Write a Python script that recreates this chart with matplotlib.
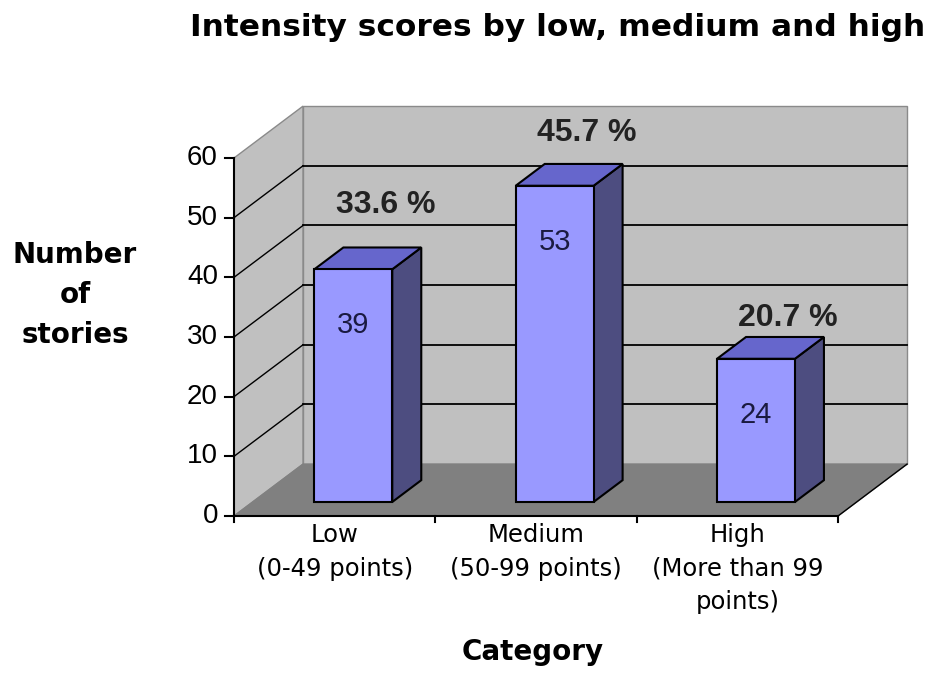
#!/usr/bin/env python

"""
Intensity scores bar chart, drawn as an Excel style 3D column chart.
"""

import numpy as np
import matplotlib
matplotlib.use('Agg')
import matplotlib.pyplot as plt
from matplotlib.patches import Polygon

categories = ['Low\n(0-49 points)', 'Medium\n(50-99 points)', 'High\n(More than 99\npoints)']
counts = [39, 53, 24]
percent_labels = ['33.6 %', '45.7 %', '20.7 %']
y_ticks = [0, 10, 20, 30, 40, 50, 60]

title = 'Intensity scores by low, medium and high'
x_label = 'Category'
y_label = 'Number\nof\nstories'

# depth offset of the back wall, in data units (x: categories, y: counts)
DX, DY = 0.343, 8.7
# bar footprint: width as fraction of a category, depth range as fraction of DX/DY
BAR_W = 0.387
D0, D1 = 0.27, 0.69

c_front = '#9999ff'
c_top = '#6666cc'
c_side = '#4d4d80'
c_wall = '#c0c0c0'
c_floor = '#808080'


def poly(ax, pts, fc, ec='black', lw=1.2, z=1):
    p = Polygon(pts, closed=True, facecolor=fc, edgecolor=ec, linewidth=lw, zorder=z)
    ax.add_patch(p)
    return p


def draw_bar(ax, xc, v):
    x0 = xc - BAR_W / 2 + D0 * DX
    x1 = xc + BAR_W / 2 + D0 * DX
    y0 = D0 * DY
    y1 = y0 + v
    ddx = (D1 - D0) * DX
    ddy = (D1 - D0) * DY
    poly(ax, [(x1, y0), (x1 + ddx, y0 + ddy), (x1 + ddx, y1 + ddy), (x1, y1)], c_side, lw=1.5, z=5)
    poly(ax, [(x0, y1), (x1, y1), (x1 + ddx, y1 + ddy), (x0 + ddx, y1 + ddy)], c_top, lw=1.5, z=5)
    poly(ax, [(x0, y0), (x1, y0), (x1, y1), (x0, y1)], c_front, lw=1.5, z=6)


fig = plt.figure(figsize=(9.36, 6.73), dpi=100)
ax = fig.add_axes([0, 0, 1, 1])
# front plane: x 0..3 -> px 234..838, y 0..60 -> px 516..158 (from top)
ppx = (838 - 234) / 3
ppy = (516 - 158) / 60
ax.set_xlim(-234 / ppx, (936 - 234) / ppx)
ax.set_ylim(-(673 - 516) / ppy, 516 / ppy)
ax.axis('off')

n = len(categories)
ymax = y_ticks[-1]

# walls and floor
poly(ax, [(0, 0), (DX, DY), (DX, ymax + DY), (0, ymax)], c_wall, ec='#8a8a8a', lw=1, z=0)
poly(ax, [(DX, DY), (n + DX, DY), (n + DX, ymax + DY), (DX, ymax + DY)], c_wall, ec='#8a8a8a', lw=1, z=0)
poly(ax, [(0, 0), (n, 0), (n + DX, DY), (DX, DY)], c_floor, ec=c_floor, lw=1, z=1)

# gridlines on back and side walls (top one is the wall border)
for t in y_ticks[1:-1]:
    ax.plot([DX, n + DX], [t + DY, t + DY], color='black', lw=1.3, zorder=2)
    ax.plot([0, DX], [t, t + DY], color='black', lw=1.0, zorder=2)

# axes lines and ticks
ax.plot([0, 0], [0, ymax], color='black', lw=1.5, zorder=3)
ax.plot([0, n], [0, 0], color='black', lw=1.5, zorder=3)
ax.plot([n, n + DX], [0, DY], color='black', lw=1.0, zorder=3)
for t in y_ticks:
    ax.plot([-0.045, 0], [t, t], color='black', lw=1.5, zorder=3)
    ax.text(-0.08, t, str(t), ha='right', va='center', fontsize=20,
            family='Liberation Sans', color='black')
for i in range(n + 1):
    ax.plot([i, i], [0, -1.0], color='black', lw=1.5, zorder=3)

# bars and labels; the percent label sits a little lower towards the right
for i, (v, pl, cat) in enumerate(zip(counts, percent_labels, categories)):
    xc = i + 0.5
    draw_bar(ax, xc, v)
    ax.text(xc + D0 * DX, v + D0 * DY - 9.4, str(v), ha='center', va='center',
            fontsize=21, family='Liberation Sans', color='#1a1a40', zorder=7)
    lift = (64 - 11.5 * i) / ppy
    ax.text(xc + D0 * DX + 0.16, v + D0 * DY + lift, pl, ha='center', va='center',
            fontsize=23, family='Liberation Sans', fontweight='bold', color='#222222', zorder=7)
    ax.text(xc, -1.2, cat, ha='center', va='top', fontsize=17.5, linespacing=1.5, color='black')

ax.text((558 - 234) / ppx, (516 - 27) / ppy, title, ha='center', va='center',
        fontsize=22.5, fontweight='bold')
ax.text((533 - 234) / ppx, (516 - 652) / ppy, x_label, ha='center', va='center',
        fontsize=20, fontweight='bold')
ax.text((75 - 234) / ppx, (516 - 295) / ppy, y_label, ha='center', va='center',
        fontsize=20, fontweight='bold', linespacing=1.56)

fig.savefig('out.png', dpi=100)
